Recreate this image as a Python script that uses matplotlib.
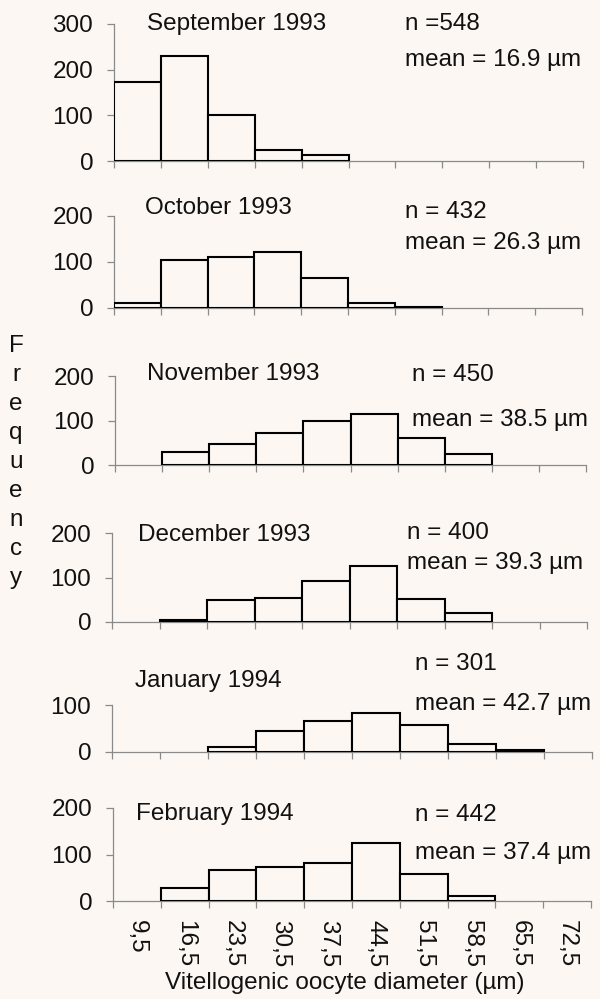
import numpy as np
import matplotlib
matplotlib.use('Agg')
import matplotlib.pyplot as plt

plt.rcParams['font.family'] = ['Liberation Sans', 'DejaVu Sans']

# ---------------- data ----------------
bins = ['9,5', '16,5', '23,5', '30,5', '37,5', '44,5', '51,5', '58,5', '65,5', '72,5']
months = ['September 1993', 'October 1993', 'November 1993',
          'December 1993', 'January 1994', 'February 1994']
n_labels = ['n =548', 'n = 432', 'n = 450', 'n = 400', 'n = 301', 'n = 442']
means = ['16.9', '26.3', '38.5', '39.3', '42.7', '37.4']

sep93 = [172, 231, 100, 24, 13, 0, 0, 0, 0, 0]
oct93 = [11, 104, 111, 122, 65, 11, 3, 0, 0, 0]
nov93 = [0, 30, 47, 73, 100, 115, 61, 24, 0, 0]
dec93 = [0, 4, 50, 54, 92, 125, 52, 21, 0, 0]
jan94 = [0, 0, 10, 44, 67, 83, 58, 18, 4, 0]
feb94 = [0, 28, 66, 74, 82, 124, 57, 11, 0, 0]
series = [sep93, oct93, nov93, dec93, jan94, feb94]
ymax = [300, 200, 200, 200, 100, 200]

# ---------------- layout (pixels) ----------------
W, H = 600, 999
BG = '#fcf7f2'
AXC = '#8a8a8a'
FS = 17.5
# left, right, top(y of ymax), bottom(y of 0)
panels = [(114, 583, 24, 161), (114, 582, 216, 308), (115, 586, 376, 465),
          (112, 587, 533, 622), (112, 592, 705, 752), (113, 591, 808, 901)]
title_pos = [(147, 24), (145, 208), (147, 374), (138, 535), (135, 681), (136, 814)]
n_pos = [(405, 24), (405, 212), (412, 375), (407, 533), (415, 664), (415, 815)]
mean_pos = [(405, 60), (405, 243), (412, 420), (407, 563), (415, 704), (415, 853)]

fig = plt.figure(figsize=(W / 100, H / 100), dpi=100, facecolor=BG)

def fx(x):
    return x / W

def fy(y):
    return 1 - y / H

idx = np.arange(len(bins))
for i, vals in enumerate(series):
    l, r, t, b = panels[i]
    ax = fig.add_axes([fx(l), fy(b), fx(r) - fx(l), (b - t) / H])
    ax.set_facecolor('none')
    v = np.array(vals, dtype=float)
    mask = v > 0
    ax.bar(idx[mask], v[mask], width=1.0, align='center', facecolor=BG,
           edgecolor='black', linewidth=1.5, zorder=3)
    ax.set_xlim(-0.5, len(bins) - 0.5)
    ax.set_ylim(0, ymax[i])
    ax.set_yticks(np.arange(0, ymax[i] + 1, 100))
    for s in ['top', 'right']:
        ax.spines[s].set_visible(False)
    for s in ['left', 'bottom']:
        ax.spines[s].set_color(AXC)
        ax.spines[s].set_linewidth(0.9)
    ax.tick_params(axis='y', direction='out', length=5, width=0.9, color=AXC,
                   labelsize=FS, pad=10, labelcolor='#111111')
    ax.set_xticks(np.arange(-0.5, len(bins), 1.0), minor=True)
    ax.tick_params(axis='x', which='minor', direction='out', length=5, width=0.9,
                   color=AXC)
    if i == len(series) - 1:
        ax.set_xticks(idx)
        ax.set_xticklabels(bins, rotation=-90, fontsize=FS, color='#111111')
        ax.tick_params(axis='x', which='major', length=0, pad=14)
    else:
        ax.set_xticks([])
    fig.text(fx(title_pos[i][0]), fy(title_pos[i][1]), months[i], fontsize=FS,
             ha='left', va='center', color='#111111')
    fig.text(fx(n_pos[i][0]), fy(n_pos[i][1]), n_labels[i], fontsize=FS,
             ha='left', va='center', color='#111111')
    fig.text(fx(mean_pos[i][0]), fy(mean_pos[i][1]), 'mean = ' + means[i] + ' µm',
             fontsize=FS, ha='left', va='center', color='#111111')

fig.text(fx(345), fy(983), 'Vitellogenic oocyte diameter (µm)', fontsize=FS,
         ha='center', va='center', color='#111111')
fig.text(fx(16), fy(462), '\n'.join('Frequency'), fontsize=FS, ha='center',
         va='center', linespacing=1.41, color='#111111')

fig.savefig('out.png', dpi=100, facecolor=BG)
